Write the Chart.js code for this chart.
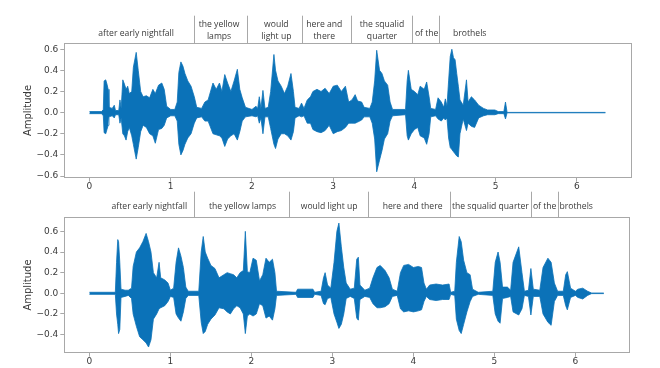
<!DOCTYPE html>
<html>
<head>
<meta charset="utf-8">
<script src="https://cdn.jsdelivr.net/npm/chart.js@4.4.1/dist/chart.umd.min.js"></script>
<style>
  html, body { margin: 0; background: #fff; }
  #wrap { position: relative; width: 660px; height: 368px; }
  #wrap canvas { position: absolute; left: 0; top: 0; }
</style>
</head>
<body>
<div id="wrap">
  <canvas id="topChart" width="660" height="368"></canvas>
  <canvas id="bottomChart" width="660" height="368"></canvas>
</div>
<script>
// ---- data: waveform envelopes (seconds, upper peak, lower peak) ----
const topTime = [
  0.00, 0.15, 0.17, 0.18, 0.20, 0.215, 0.23, 0.24, 0.28, 0.305,
  0.32, 0.36, 0.375, 0.39, 0.41, 0.43, 0.45, 0.47, 0.49, 0.52,
  0.54, 0.575, 0.60, 0.63, 0.66, 0.70, 0.74, 0.78, 0.81, 0.85,
  0.89, 0.92, 0.95, 1.00, 1.05, 1.08, 1.10, 1.125, 1.15, 1.175,
  1.21, 1.25, 1.29, 1.32, 1.38, 1.42, 1.46, 1.52, 1.56, 1.60,
  1.63, 1.665, 1.70, 1.74, 1.78, 1.82, 1.85, 1.88, 1.92, 2.00,
  2.05, 2.07, 2.09, 2.11, 2.135, 2.16, 2.20, 2.23, 2.27, 2.29,
  2.32, 2.36, 2.40, 2.44, 2.48, 2.51, 2.53, 2.58, 2.61, 2.64,
  2.68, 2.72, 2.75, 2.80, 2.85, 2.90, 2.95, 3.00, 3.05, 3.10,
  3.15, 3.19, 3.23, 3.27, 3.30, 3.35, 3.38, 3.45, 3.48, 3.51,
  3.535, 3.57, 3.60, 3.63, 3.67, 3.70, 3.73, 3.89, 3.91, 3.925,
  3.96, 4.00, 4.04, 4.07, 4.12, 4.15, 4.18, 4.20, 4.26, 4.29,
  4.33, 4.36, 4.38, 4.40, 4.42, 4.44, 4.46, 4.48, 4.50, 4.52,
  4.54, 4.56, 4.60, 4.64, 4.66, 4.70, 4.74, 4.79, 4.85, 4.90,
  4.99, 5.03, 5.10, 5.12, 5.14, 6.35
];
const topUpper = [
  0.01, 0.01, 0.03, 0.30, 0.31, 0.27, 0.22, 0.05, 0.04, 0.07,
  0.02, 0.02, 0.12, 0.04, 0.31, 0.27, 0.22, 0.25, 0.18, 0.20,
  0.43, 0.57, 0.40, 0.20, 0.15, 0.16, 0.14, 0.22, 0.18, 0.26,
  0.28, 0.22, 0.06, 0.03, 0.03, 0.10, 0.38, 0.48, 0.44, 0.37,
  0.30, 0.25, 0.15, 0.05, 0.04, 0.10, 0.12, 0.28, 0.22, 0.28,
  0.20, 0.36, 0.28, 0.20, 0.30, 0.41, 0.22, 0.14, 0.05, 0.03,
  0.06, 0.04, 0.15, 0.04, 0.21, 0.04, 0.05, 0.20, 0.55, 0.40,
  0.30, 0.25, 0.18, 0.25, 0.37, 0.20, 0.05, 0.04, 0.09, 0.04,
  0.12, 0.15, 0.20, 0.22, 0.20, 0.23, 0.18, 0.25, 0.26, 0.20,
  0.25, 0.10, 0.12, 0.17, 0.11, 0.10, 0.05, 0.04, 0.10, 0.30,
  0.59, 0.40, 0.37, 0.30, 0.26, 0.10, 0.03, 0.03, 0.30, 0.40,
  0.22, 0.20, 0.17, 0.25, 0.22, 0.29, 0.15, 0.04, 0.03, 0.14,
  0.10, 0.05, 0.13, 0.06, 0.30, 0.53, 0.60, 0.52, 0.50, 0.37,
  0.25, 0.12, 0.07, 0.31, 0.10, 0.15, 0.12, 0.07, 0.04, 0.025,
  0.025, 0.01, 0.01, 0.10, 0.002, 0.002
];
const topLower = [
  -0.01, -0.01, -0.03, -0.19, -0.20, -0.16, -0.12, -0.04, -0.03, -0.05,
  -0.02, -0.02, -0.10, -0.05, -0.20, -0.22, -0.26, -0.18, -0.14, -0.22,
  -0.30, -0.44, -0.33, -0.18, -0.12, -0.14, -0.20, -0.22, -0.29, -0.16,
  -0.15, -0.12, -0.05, -0.03, -0.03, -0.08, -0.30, -0.40, -0.36, -0.30,
  -0.24, -0.20, -0.10, -0.05, -0.04, -0.08, -0.08, -0.20, -0.21, -0.22,
  -0.24, -0.32, -0.25, -0.22, -0.20, -0.26, -0.18, -0.08, -0.04, -0.03,
  -0.04, -0.03, -0.10, -0.05, -0.20, -0.04, -0.04, -0.15, -0.30, -0.34,
  -0.25, -0.20, -0.20, -0.22, -0.26, -0.18, -0.05, -0.03, -0.04, -0.03,
  -0.10, -0.10, -0.16, -0.18, -0.19, -0.17, -0.12, -0.20, -0.18, -0.17,
  -0.14, -0.10, -0.10, -0.10, -0.09, -0.07, -0.04, -0.04, -0.10, -0.25,
  -0.56, -0.45, -0.36, -0.25, -0.20, -0.08, -0.03, -0.02, -0.22, -0.26,
  -0.20, -0.16, -0.14, -0.22, -0.24, -0.30, -0.20, -0.04, -0.03, -0.06,
  -0.08, -0.05, -0.07, -0.05, -0.24, -0.33, -0.35, -0.37, -0.39, -0.41,
  -0.42, -0.20, -0.06, -0.17, -0.10, -0.13, -0.14, -0.05, -0.03, -0.02,
  -0.02, -0.01, -0.01, -0.06, -0.002, -0.002
];

const bottomTime = [
  0.00, 0.32, 0.335, 0.35, 0.36, 0.375, 0.39, 0.44, 0.48, 0.52,
  0.54, 0.58, 0.62, 0.66, 0.70, 0.73, 0.76, 0.79, 0.83, 0.86,
  0.88, 0.93, 0.97, 1.00, 1.04, 1.07, 1.10, 1.13, 1.16, 1.19,
  1.22, 1.35, 1.38, 1.405, 1.43, 1.46, 1.50, 1.55, 1.60, 1.66,
  1.70, 1.74, 1.78, 1.82, 1.86, 1.90, 1.925, 1.95, 1.98, 2.02,
  2.06, 2.10, 2.14, 2.18, 2.22, 2.26, 2.29, 2.31, 2.55, 2.57,
  2.76, 2.78, 2.86, 2.89, 2.91, 2.94, 2.98, 3.02, 3.055, 3.08,
  3.11, 3.14, 3.17, 3.22, 3.27, 3.30, 3.32, 3.34, 3.40, 3.46,
  3.50, 3.55, 3.59, 3.65, 3.70, 3.74, 3.80, 3.84, 3.88, 3.94,
  4.00, 4.06, 4.10, 4.13, 4.16, 4.20, 4.28, 4.36, 4.44, 4.46,
  4.51, 4.53, 4.565, 4.59, 4.62, 4.66, 4.70, 4.73, 4.80, 4.98,
  5.01, 5.045, 5.07, 5.10, 5.16, 5.20, 5.23, 5.30, 5.34, 5.37,
  5.42, 5.45, 5.48, 5.56, 5.60, 5.66, 5.70, 5.74, 5.78, 5.85,
  5.88, 5.90, 5.94, 6.00, 6.03, 6.09, 6.15, 6.20, 6.35
];
const bottomUpper = [
  0.01, 0.01, 0.30, 0.52, 0.50, 0.30, 0.04, 0.03, 0.03, 0.05,
  0.26, 0.40, 0.44, 0.50, 0.58, 0.50, 0.40, 0.20, 0.15, 0.30,
  0.15, 0.13, 0.10, 0.03, 0.05, 0.30, 0.44, 0.36, 0.25, 0.06,
  0.02, 0.02, 0.40, 0.55, 0.40, 0.34, 0.27, 0.24, 0.15, 0.18,
  0.20, 0.19, 0.18, 0.15, 0.20, 0.22, 0.60, 0.21, 0.20, 0.34,
  0.32, 0.12, 0.18, 0.34, 0.30, 0.33, 0.20, 0.02, 0.01, 0.04,
  0.04, 0.01, 0.02, 0.15, 0.20, 0.08, 0.05, 0.30, 0.60, 0.68,
  0.45, 0.25, 0.10, 0.04, 0.05, 0.33, 0.35, 0.08, 0.03, 0.05,
  0.15, 0.25, 0.27, 0.22, 0.15, 0.04, 0.02, 0.20, 0.27, 0.28,
  0.25, 0.26, 0.25, 0.10, 0.04, 0.08, 0.09, 0.08, 0.09, 0.01,
  0.02, 0.30, 0.55, 0.50, 0.32, 0.20, 0.18, 0.04, 0.01, 0.02,
  0.30, 0.40, 0.30, 0.06, 0.06, 0.03, 0.30, 0.45, 0.20, 0.02,
  0.03, 0.24, 0.04, 0.03, 0.25, 0.34, 0.30, 0.10, 0.02, 0.02,
  0.18, 0.21, 0.05, 0.02, 0.04, 0.05, 0.02, 0.003, 0.003
];
const bottomLower = [
  -0.01, -0.01, -0.20, -0.30, -0.39, -0.35, -0.04, -0.03, -0.02, -0.05,
  -0.20, -0.32, -0.42, -0.45, -0.48, -0.52, -0.45, -0.25, -0.20, -0.15,
  -0.14, -0.12, -0.08, -0.03, -0.04, -0.20, -0.24, -0.27, -0.18, -0.05,
  -0.02, -0.02, -0.28, -0.39, -0.37, -0.30, -0.25, -0.21, -0.14, -0.15,
  -0.18, -0.20, -0.15, -0.12, -0.14, -0.20, -0.39, -0.22, -0.20, -0.22,
  -0.20, -0.10, -0.12, -0.24, -0.22, -0.26, -0.15, -0.02, -0.01, -0.04,
  -0.04, -0.01, -0.02, -0.10, -0.11, -0.05, -0.04, -0.20, -0.28, -0.34,
  -0.30, -0.20, -0.05, -0.03, -0.05, -0.24, -0.26, -0.06, -0.03, -0.04,
  -0.10, -0.14, -0.14, -0.13, -0.10, -0.03, -0.02, -0.15, -0.18, -0.17,
  -0.18, -0.17, -0.16, -0.08, -0.03, -0.06, -0.07, -0.06, -0.06, -0.01,
  -0.02, -0.25, -0.36, -0.39, -0.30, -0.18, -0.08, -0.03, -0.01, -0.02,
  -0.20, -0.27, -0.29, -0.05, -0.04, -0.03, -0.18, -0.21, -0.15, -0.02,
  -0.03, -0.21, -0.03, -0.03, -0.20, -0.28, -0.31, -0.08, -0.02, -0.02,
  -0.12, -0.16, -0.04, -0.02, -0.04, -0.055, -0.02, -0.003, -0.003
];

// word segmentation above each plot
const topWords = ['after early nightfall', 'the yellow\nlamps', 'would\nlight up', 'here and\nthere',
                  'the squalid\nquarter', 'of the', 'brothels'];
const topWordCenters = [0.574, 1.595, 2.30, 2.89, 3.60, 4.15, 4.68];
const topBounds = [1.29, 1.94, 2.62, 3.22, 3.97, 4.30];

const bottomWords = ['after early nightfall', 'the yellow lamps', 'would light up', 'here and there',
                     'the squalid quarter', 'of the', 'brothels'];
const bottomWordCenters = [0.74, 1.89, 2.96, 3.99, 4.95, 5.62, 6.01];
const bottomBounds = [1.288, 2.47, 3.44, 4.45, 5.45, 5.78];

const xTicks = [0, 1, 2, 3, 4, 5, 6];
const topYTicks = [-0.6, -0.4, -0.2, 0.0, 0.2, 0.4, 0.6];
const bottomYTicks = [-0.4, -0.2, 0.0, 0.2, 0.4, 0.6];

const BLUE = '#0b72b8';
const FRAME = '#a8a8a8';
const TEXT = '#3a3a3a';

// frame around the plot + word labels and separators on top
const wordsPlugin = {
  id: 'words',
  afterDraw(chart, args, o) {
    const { ctx, chartArea: a, scales: { x } } = chart;
    ctx.save();
    ctx.strokeStyle = FRAME;
    ctx.lineWidth = 1;
    ctx.strokeRect(Math.round(a.left) + 0.5, Math.round(a.top) + 0.5,
                   Math.round(a.right - a.left), Math.round(a.bottom - a.top));
    o.bounds.forEach(b => {
      const px = Math.round(x.getPixelForValue(b)) + 0.5;
      ctx.beginPath();
      ctx.moveTo(px, a.top - o.sepH);
      ctx.lineTo(px, a.top);
      ctx.stroke();
    });
    ctx.fillStyle = TEXT;
    ctx.font = '8.6px "Open Sans"';
    ctx.textAlign = 'center';
    ctx.textBaseline = 'middle';
    o.words.forEach((w, i) => {
      const lines = w.split('\n');
      const cx = x.getPixelForValue(o.centers[i]);
      const offs = lines.length === 1 ? [o.oneY] : o.twoY;
      lines.forEach((l, j) => ctx.fillText(l, cx, a.top - offs[j]));
    });
    ctx.restore();
  }
};

const fmt = v => (v < 0 ? '\u2212' : '') + Math.abs(v).toFixed(1);

function makeChart(id, times, upper, lower, yMin, yMax, yTicks, words, centers, bounds, pad, txt) {
  return new Chart(document.getElementById(id), {
    type: 'line',
    data: {
      datasets: [
        { data: times.map((t, i) => ({ x: t, y: upper[i] })), borderColor: BLUE, backgroundColor: BLUE,
          borderWidth: 0.8, pointRadius: 0, tension: 0, fill: '+1' },
        { data: times.map((t, i) => ({ x: t, y: lower[i] })), borderColor: BLUE,
          borderWidth: 0.8, pointRadius: 0, tension: 0, fill: false }
      ]
    },
    options: {
      responsive: false,
      animation: false,
      events: [],
      layout: { padding: pad },
      plugins: {
        legend: { display: false },
        tooltip: { enabled: false },
        words: { words, centers, bounds, sepH: txt.sepH, oneY: txt.oneY, twoY: txt.twoY }
      },
      scales: {
        x: {
          type: 'linear', min: -0.31, max: 6.665,
          afterBuildTicks: s => { s.ticks = xTicks.map(v => ({ value: v })); },
          afterFit: s => { s.height = 14; },
          ticks: { color: TEXT, font: { family: 'DejaVu Sans', size: 9 }, padding: 0, maxRotation: 0,
                   callback: v => String(v) },
          grid: { drawOnChartArea: false, tickLength: 4, color: FRAME },
          border: { display: false }
        },
        y: {
          min: yMin, max: yMax,
          afterBuildTicks: s => { s.ticks = yTicks.map(v => ({ value: v })); },
          afterFit: s => { s.width = 64.3; },
          ticks: { color: TEXT, font: { family: 'DejaVu Sans', size: 9 }, padding: 2, callback: fmt },
          grid: { drawOnChartArea: false, tickLength: 4, color: FRAME },
          border: { display: false },
          title: { display: true, text: 'Amplitude', color: TEXT,
                   font: { family: 'DejaVu Sans', size: 10 }, padding: { top: 22.3, bottom: 0 } }
        }
      }
    },
    plugins: [wordsPlugin]
  });
}

makeChart('topChart', topTime, topUpper, topLower, -0.616, 0.656, topYTicks,
  topWords, topWordCenters, topBounds,
  { left: 0, right: 29, top: 43.3, bottom: 176.3 },
  { sepH: 27.6, oneY: 9.3, twoY: [18.3, 6.6] });

makeChart('bottomChart', bottomTime, bottomUpper, bottomLower, -0.575, 0.736, bottomYTicks,
  bottomWords, bottomWordCenters, bottomBounds,
  { left: 0, right: 30.7, top: 217.3, bottom: 1.3 },
  { sepH: 25.6, oneY: 10.3, twoY: [18, 6] });
</script>
</body>
</html>
